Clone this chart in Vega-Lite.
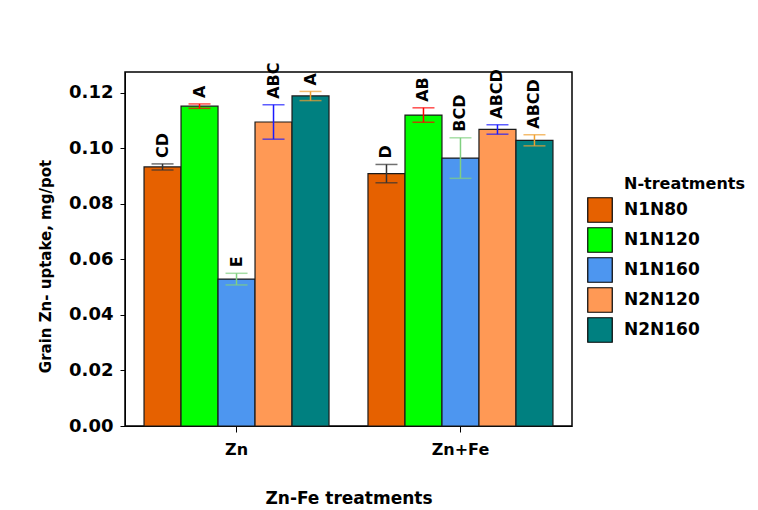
{
  "$schema": "https://vega.github.io/schema/vega-lite/v6.json",
  "width": 447,
  "height": 354,
  "autosize": {"type": "none"},
  "padding": {"left": 125, "top": 72, "right": 186, "bottom": 84},
  "background": "white",
  "config": {
    "font": "DejaVu Sans",
    "view": {"stroke": "black", "strokeWidth": 1.5},
    "axis": {"grid": false, "domainColor": "black", "tickColor": "black", "labelColor": "black", "titleColor": "black", "labelFont": "DejaVu Sans", "titleFont": "DejaVu Sans", "labelFontWeight": "bold", "titleFontWeight": "bold"}
  },
  "data": {
    "values": [
      {"zf": "Zn", "n": "N1N80", "v": 0.0933, "lo": 0.0922, "hi": 0.0944, "lab": "CD"},
      {"zf": "Zn", "n": "N1N120", "v": 0.1152, "lo": 0.1144, "hi": 0.1160, "lab": "A"},
      {"zf": "Zn", "n": "N1N160", "v": 0.0529, "lo": 0.0508, "hi": 0.0550, "lab": "E"},
      {"zf": "Zn", "n": "N2N120", "v": 0.1095, "lo": 0.1033, "hi": 0.1157, "lab": "ABC"},
      {"zf": "Zn", "n": "N2N160", "v": 0.1189, "lo": 0.1172, "hi": 0.1205, "lab": "A"},
      {"zf": "Zn+Fe", "n": "N1N80", "v": 0.0909, "lo": 0.0876, "hi": 0.0942, "lab": "D"},
      {"zf": "Zn+Fe", "n": "N1N120", "v": 0.1120, "lo": 0.1094, "hi": 0.1146, "lab": "AB"},
      {"zf": "Zn+Fe", "n": "N1N160", "v": 0.0965, "lo": 0.0892, "hi": 0.1038, "lab": "BCD"},
      {"zf": "Zn+Fe", "n": "N2N120", "v": 0.1068, "lo": 0.1051, "hi": 0.1085, "lab": "ABCD"},
      {"zf": "Zn+Fe", "n": "N2N160", "v": 0.1029, "lo": 0.1009, "hi": 0.1049, "lab": "ABCD"}
    ]
  },
  "encoding": {
    "x": {
      "field": "zf", "type": "nominal", "sort": ["Zn", "Zn+Fe"],
      "scale": {"paddingInner": 0.174, "paddingOuter": 0.085},
      "axis": {"title": "Zn-Fe treatments", "labelAngle": 0, "labelFontSize": 16, "labelPadding": 9, "tickSize": 6, "titleFontSize": 17, "titleY": 64, "titleBaseline": "top"}
    },
    "xOffset": {
      "field": "n", "type": "nominal", "sort": ["N1N80", "N1N120", "N1N160", "N2N120", "N2N160"],
      "scale": {"paddingInner": 0, "paddingOuter": 0}
    }
  },
  "layer": [
    {
      "mark": {"type": "bar", "stroke": "#1a1a1a", "strokeWidth": 1.2},
      "encoding": {
        "y": {
          "field": "v", "type": "quantitative", "title": "Grain Zn- uptake, mg/pot",
          "scale": {"domain": [0, 0.1275], "nice": false},
          "axis": {"values": [0, 0.02, 0.04, 0.06, 0.08, 0.1, 0.12], "format": ".2f", "labelFontSize": 18, "labelPadding": 7, "tickSize": 5, "titleFontSize": 15, "titleX": -72, "titleY": 194}
        },
        "fill": {
          "field": "n", "type": "nominal",
          "scale": {"domain": ["N1N80", "N1N120", "N1N160", "N2N120", "N2N160"], "range": ["#e66100", "#00ff00", "#4d96f0", "#ff9955", "#008080"]},
          "legend": {
            "title": "N-treatments",
            "orient": "none", "legendX": 499, "legendY": 104, "padding": 0,
            "symbolOffset": -37,
            "titleFontSize": 16, "titleFontWeight": "bold", "titleColor": "black", "titlePadding": 5,
            "labelFontSize": 17, "labelFontWeight": "bold", "labelColor": "black", "labelOffset": 11,
            "symbolType": "square", "symbolSize": 600, "symbolStrokeColor": "black", "symbolStrokeWidth": 1.2, "rowPadding": 0
          }
        }
      }
    },
    {
      "mark": {"type": "rule", "strokeWidth": 1.5},
      "encoding": {
        "y": {"field": "lo", "type": "quantitative", "title": "Grain Zn- uptake, mg/pot"},
        "y2": {"field": "hi"},
        "color": {"condition": [{"test": "datum.n === 'N1N120'", "value": "#ff0000"}, {"test": "datum.n === 'N1N160'", "value": "#80d080"}, {"test": "datum.n === 'N2N120'", "value": "#1a1aff"}, {"test": "datum.n === 'N2N160'", "value": "#f0a030"}], "value": "#333333"}
      }
    },
    {
      "mark": {"type": "tick", "thickness": 1.5, "size": 22, "orient": "horizontal"},
      "encoding": {
        "y": {"field": "lo", "type": "quantitative", "title": "Grain Zn- uptake, mg/pot"},
        "color": {"condition": [{"test": "datum.n === 'N1N120'", "value": "#ff0000"}, {"test": "datum.n === 'N1N160'", "value": "#80d080"}, {"test": "datum.n === 'N2N120'", "value": "#1a1aff"}, {"test": "datum.n === 'N2N160'", "value": "#f0a030"}], "value": "#333333"}
      }
    },
    {
      "mark": {"type": "tick", "thickness": 1.5, "size": 22, "orient": "horizontal"},
      "encoding": {
        "y": {"field": "hi", "type": "quantitative", "title": "Grain Zn- uptake, mg/pot"},
        "color": {"condition": [{"test": "datum.n === 'N1N120'", "value": "#ff0000"}, {"test": "datum.n === 'N1N160'", "value": "#80d080"}, {"test": "datum.n === 'N2N120'", "value": "#1a1aff"}, {"test": "datum.n === 'N2N160'", "value": "#f0a030"}], "value": "#333333"}
      }
    },
    {
      "mark": {"type": "text", "angle": 270, "align": "left", "baseline": "middle", "dx": 6, "fontSize": 16, "fontWeight": "bold", "fill": "black", "font": "DejaVu Sans"},
      "encoding": {
        "y": {"field": "hi", "type": "quantitative", "title": "Grain Zn- uptake, mg/pot"},
        "text": {"field": "lab"}
      }
    }
  ]
}
